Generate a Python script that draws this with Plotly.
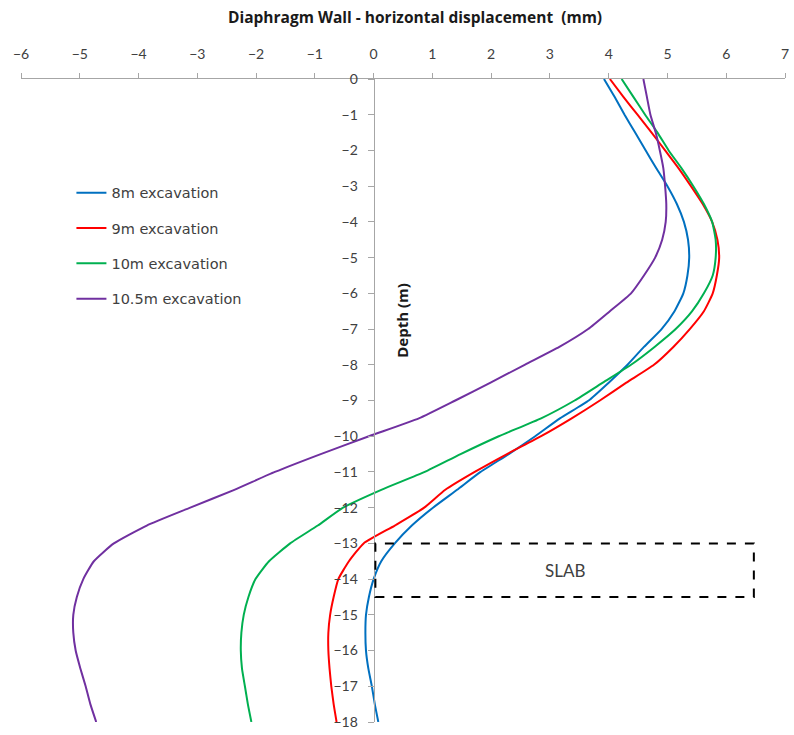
import plotly.graph_objects as go

# Depth below ground level (m), sampled every 0.5 m
depth = [0, -0.5, -1, -1.5, -2, -2.5, -3, -3.5, -4, -4.5, -5, -5.5, -6, -6.5,
         -7, -7.5, -8, -8.5, -9, -9.5, -10, -10.5, -11, -11.5, -12, -12.5,
         -13, -13.5, -14, -14.5, -15, -15.5, -16, -16.5, -17, -17.5, -18]

# Horizontal wall displacement (mm) for each excavation stage
disp_8m = [3.92, 4.10, 4.27, 4.45, 4.63, 4.81, 5.00, 5.16, 5.28, 5.35, 5.37, 5.34,
           5.27, 5.12, 4.90, 4.60, 4.32, 4.00, 3.66, 3.17, 2.75, 2.30, 1.82, 1.42,
           1.01, 0.65, 0.36, 0.13, 0.00, -0.08, -0.13, -0.14, -0.13, -0.09, -0.03,
           0.02, 0.08]
disp_9m = [4.02, 4.25, 4.49, 4.73, 4.96, 5.19, 5.40, 5.60, 5.76, 5.85, 5.88, 5.84,
           5.77, 5.62, 5.38, 5.10, 4.77, 4.30, 3.85, 3.37, 2.85, 2.27, 1.72, 1.22,
           0.86, 0.36, -0.17, -0.42, -0.60, -0.68, -0.74, -0.77, -0.77, -0.75,
           -0.72, -0.68, -0.63]
disp_10m = [4.22, 4.42, 4.62, 4.83, 5.02, 5.24, 5.44, 5.62, 5.76, 5.82, 5.82, 5.77,
            5.62, 5.42, 5.14, 4.78, 4.38, 3.90, 3.42, 2.85, 2.13, 1.48, 0.87, 0.13,
            -0.52, -0.95, -1.42, -1.78, -2.01, -2.13, -2.21, -2.25, -2.26, -2.24,
            -2.19, -2.14, -2.08]
disp_10_5m = [4.59, 4.65, 4.71, 4.80, 4.87, 4.93, 4.96, 4.98, 4.97, 4.91, 4.79, 4.60,
              4.38, 4.02, 3.65, 3.16, 2.57, 1.99, 1.39, 0.77, -0.08, -0.90, -1.68,
              -2.37, -3.12, -3.86, -4.42, -4.76, -4.94, -5.05, -5.11, -5.11, -5.07,
              -4.99, -4.90, -4.82, -4.72]

series_names = ["8m excavation", "9m excavation", "10m excavation", "10.5m excavation"]
series_values = [disp_8m, disp_9m, disp_10m, disp_10_5m]
series_colors = ["#0070C0", "#FF0000", "#00B050", "#7030A0"]

# Slab extent (displacement span, depth span)
slab_x = [0.03, 6.47]
slab_depth = [-13.0, -14.5]

x_range = [-6, 7]
y_range = [-18, 0]
axis_color = "#A6A6A6"
text_color = "#404040"

fig = go.Figure()
for name, vals, col in zip(series_names, series_values, series_colors):
    fig.add_trace(go.Scatter(
        x=vals, y=depth, mode="lines", name=name, legendgroup=name,
        line=dict(color=col, width=2, shape="spline", smoothing=0.5),
    ))

# slab outline and label
fig.add_shape(type="rect", xref="x", yref="y",
              x0=slab_x[0], x1=slab_x[1], y0=slab_depth[1], y1=slab_depth[0],
              line=dict(color="black", width=2, dash="dash"))
fig.add_annotation(x=(slab_x[0] + slab_x[1]) / 2, y=(slab_depth[0] + slab_depth[1]) / 2,
                   xref="x", yref="y", text="SLAB", showarrow=False,
                   font=dict(family="Lato", size=17, color=text_color))

# chart title above the top axis
fig.add_annotation(x=0.516, y=1.0965, xref="paper", yref="paper",
                   text="<b>Diaphragm Wall - horizontal displacement  (mm)</b>",
                   showarrow=False, xanchor="center", yanchor="middle",
                   font=dict(family="Open Sans", size=15.5, color="#1a1a1a"))

# vertical axis title beside the depth axis
fig.add_annotation(x=0.0, y=-6.75, xref="x", yref="y", xshift=29,
                   text="<b>Depth (m)</b>", textangle=-90, showarrow=False,
                   font=dict(family="Open Sans", size=15, color="#1a1a1a"))

ypos = (0 - x_range[0]) / (x_range[1] - x_range[0])

fig.update_layout(
    width=794, height=735,
    margin=dict(l=21, r=5, t=79, b=8),
    plot_bgcolor="white", paper_bgcolor="white",
    font=dict(family="Lato", color=text_color),
    showlegend=True,
    legend=dict(x=0.066, y=0.848, xanchor="left", yanchor="top",
                bgcolor="rgba(0,0,0,0)", tracegroupgap=13.5,
                font=dict(family="DejaVu Sans", size=14.5, color=text_color)),
    xaxis=dict(range=x_range, side="top", dtick=1, tick0=0,
               showgrid=False, zeroline=False, showline=True,
               linecolor=axis_color, linewidth=1,
               ticks="outside", ticklen=5, tickcolor=axis_color,
               ticklabelstandoff=8,
               tickfont=dict(family="Lato", size=14, color=text_color)),
    yaxis=dict(range=y_range, dtick=1, tick0=0, anchor="free", position=ypos,
               showgrid=False, zeroline=False, showline=True,
               linecolor=axis_color, linewidth=1,
               ticks="outside", ticklen=6, tickcolor=axis_color,
               ticklabelstandoff=7,
               tickfont=dict(family="Lato", size=14, color=text_color)),
    yaxis2=dict(range=y_range, dtick=1, tick0=0, overlaying="y", anchor="free",
                position=ypos, side="left", showgrid=False, zeroline=False,
                showline=False, ticks="inside", ticklen=6, tickcolor=axis_color,
                showticklabels=False),
)

fig.write_html("out.html")
